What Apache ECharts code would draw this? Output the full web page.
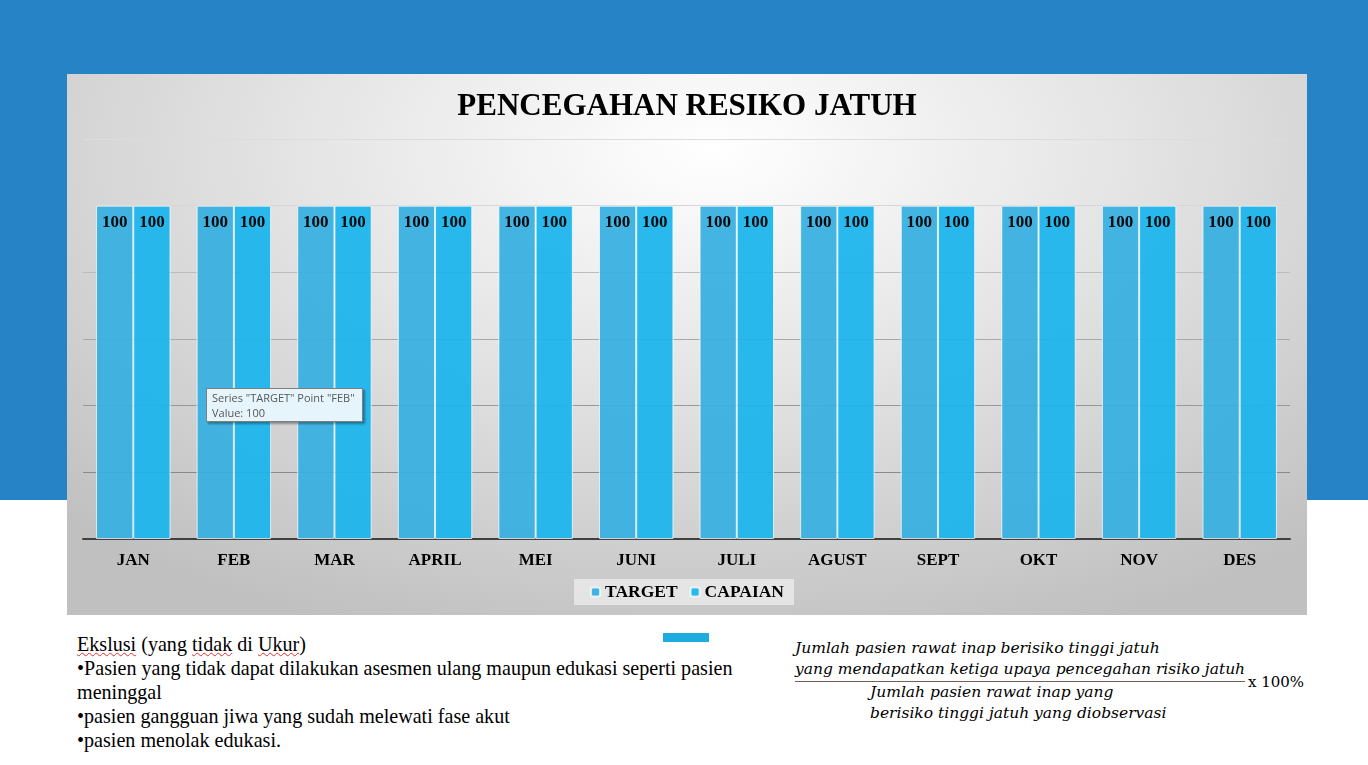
<!DOCTYPE html>
<html>
<head>
<meta charset="utf-8">
<script src="https://cdn.jsdelivr.net/npm/echarts@6/dist/echarts.min.js"></script>
<style>
    html, body {margin: 0; padding: 0;}
    body {width: 1368px; height: 765px; position: relative; overflow: hidden; background: #fff;}
    #band {position: absolute; left: 0; top: 0; width: 1368px; height: 500px; background: #2683c6;}
    #box {
        position: absolute; left: 67px; top: 74px; width: 1240px; height: 541px;
        background: radial-gradient(ellipse 75% 95% at 52% 14%, #ffffff 0%, #e4e4e4 45%, #c0c0c0 100%);
    }
    #main {position: absolute; left: 67px; top: 74px; width: 1240px; height: 541px;}
    #tip {
        position: absolute; left: 206px; top: 388px; height: 31px; white-space: nowrap;
        padding: 1px 7px 0 5px; background: #e6f4fc; border: 1px solid #7f7f7f;
        box-shadow: 2px 2px 2px rgba(0, 0, 0, 0.35);
        font: 11px "Open Sans", "DejaVu Sans", sans-serif; color: #575757; line-height: 15px;
    }
    #mark {position: absolute; left: 663px; top: 633px; width: 46px; height: 9px; background: #1eace0;}
    #notes {
        position: absolute; left: 77px; top: 632px; white-space: nowrap;
        font: 20.1px "Liberation Serif", "Times New Roman", serif; color: #000; line-height: 24px;
    }
    .sp {text-decoration: underline wavy #e03030; text-decoration-thickness: 1px;}
    #formula {
        position: absolute; left: 795px; top: 638px; width: 560px; white-space: nowrap;
        font: italic 15.5px "DejaVu Serif", serif; color: #000; line-height: 21px;
    }
    #num {border-bottom: 1px solid #7a5a5a; display: inline-block; padding-bottom: 1px;}
    #den {padding-left: 75px;}
    #times {position: absolute; left: 453px; top: 35px; font: 15px "DejaVu Serif", serif; font-style: normal;}
</style>
</head>
<body>
<div id="band"></div>
<div id="box"></div>
<div id="main"></div>
<div id="tip">Series "TARGET" Point "FEB"<br>Value: 100</div>
<div id="mark"></div>
<div id="notes">
    <span class="sp">Ekslusi</span> (yang <span class="sp">tidak</span> di <span class="sp">Ukur</span>)<br>
    •Pasien yang tidak dapat dilakukan asesmen ulang maupun edukasi seperti pasien<br>
    meninggal<br>
    •pasien gangguan jiwa yang sudah melewati fase akut<br>
    •pasien menolak edukasi.
</div>
<div id="formula">
    <div id="num">Jumlah pasien rawat inap berisiko tinggi jatuh<br>yang mendapatkan ketiga upaya pencegahan risiko jatuh</div>
    <div id="den">Jumlah pasien rawat inap yang<br>berisiko tinggi jatuh yang diobservasi</div>
    <div id="times">x 100%</div>
</div>
<script>
    let months = ['JAN', 'FEB', 'MAR', 'APRIL', 'MEI', 'JUNI', 'JULI', 'AGUST', 'SEPT', 'OKT', 'NOV', 'DES'];
    let target = [100, 100, 100, 100, 100, 100, 100, 100, 100, 100, 100, 100];
    let capaian = [100, 100, 100, 100, 100, 100, 100, 100, 100, 100, 100, 100];
    let serif = '"Liberation Serif", "Times New Roman", serif';

    let barLabel = {
        show: true,
        position: 'insideTop',
        distance: 8,
        color: '#000',
        fontFamily: serif,
        fontWeight: 'bold',
        fontSize: 17
    };

    let chart = echarts.init(document.getElementById('main'));
    chart.setOption({
        backgroundColor: 'transparent',
        title: {
            text: 'PENCEGAHAN RESIKO JATUH',
            left: 'center',
            top: 12,
            textStyle: {fontFamily: serif, fontWeight: 'bold', fontSize: 31, color: '#000'}
        },
        legend: {
            bottom: 10,
            left: 'center',
            itemWidth: 9,
            itemHeight: 9,
            itemGap: 12,
            padding: [4, 10, 4, 16],
            backgroundColor: 'rgba(238,238,238,0.75)',
            textStyle: {fontFamily: serif, fontWeight: 'bold', fontSize: 17.5, color: '#000'},
            data: ['TARGET', 'CAPAIAN']
        },
        grid: {left: 16, right: 17, top: 65, bottom: 76, containLabel: false},
        xAxis: {
            type: 'category',
            data: months,
            axisTick: {show: false},
            axisLine: {lineStyle: {color: '#404040', width: 2}},
            axisLabel: {margin: 13, color: '#000', fontFamily: serif, fontWeight: 'bold', fontSize: 17}
        },
        yAxis: {
            type: 'value',
            min: 0,
            max: 120,
            interval: 20,
            axisLabel: {show: false},
            axisLine: {show: false},
            axisTick: {show: false},
            splitLine: {
                lineStyle: {
                    color: ['#808080', '#8a8a8a', '#989898', '#a8a8a8', '#bcbcbc', '#d6d6d6', '#dcdcdc'],
                    width: 1
                }
            }
        },
        series: [
            {
                name: 'TARGET',
                type: 'bar',
                data: target,
                barWidth: '37%',
                barGap: '0%',
                itemStyle: {color: '#38afe0', opacity: 0.94, borderColor: 'rgba(255,255,255,0.75)', borderWidth: 1},
                label: barLabel
            },
            {
                name: 'CAPAIAN',
                type: 'bar',
                data: capaian,
                barWidth: '37%',
                itemStyle: {color: '#1db5ec', opacity: 0.94, borderColor: 'rgba(255,255,255,0.75)', borderWidth: 1},
                label: barLabel
            }
        ]
    });
</script>
</body>
</html>
